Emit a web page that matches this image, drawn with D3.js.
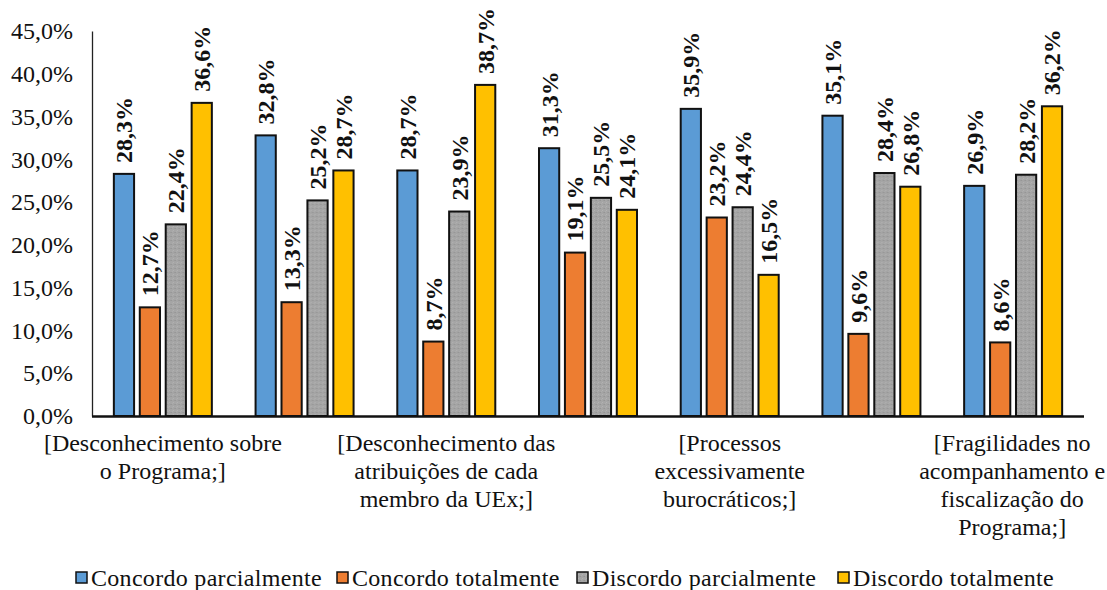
<!DOCTYPE html>
<html>
<head>
<meta charset="utf-8">
<script src="https://cdn.jsdelivr.net/npm/d3@7"></script>
<style>
  html, body { margin: 0; padding: 0; background: #fff; }
  svg { display: block; }
  svg text { font-family: 'Liberation Serif', 'Times New Roman', serif; fill: #111; }
</style>
</head>
<body>
<svg id="chart" width="1107" height="590"></svg>
<script>
// Survey answers per statement (percent of respondents)
const categoryLabels = [
  ["[Desconhecimento sobre", "o Programa;]"],
  [],
  ["[Desconhecimento das", "atribuições de cada", "membro da UEx;]"],
  [],
  ["[Processos", "excessivamente", "burocráticos;]"],
  [],
  ["[Fragilidades no", "acompanhamento e", "fiscalização do", "Programa;]"]
];
const seriesNames = ["Concordo parcialmente", "Concordo totalmente", "Discordo parcialmente", "Discordo totalmente"];
const concordoParcialmente = [28.3, 32.8, 28.7, 31.3, 35.9, 35.1, 26.9];
const concordoTotalmente   = [12.7, 13.3, 8.7, 19.1, 23.2, 9.6, 8.6];
const discordoParcialmente = [22.4, 25.2, 23.9, 25.5, 24.4, 28.4, 28.2];
const discordoTotalmente   = [36.6, 28.7, 38.7, 24.1, 16.5, 26.8, 36.2];
const yTicks = [0, 5, 10, 15, 20, 25, 30, 35, 40, 45];

const seriesValues = [concordoParcialmente, concordoTotalmente, discordoParcialmente, discordoTotalmente];
const colors = ["#5B9BD5", "#ED7D31", "#A5A5A5", "#FFC000"];

const svg = d3.select("#chart");
const fmt = v => d3.format(".1f")(v).replace(".", ",") + "%";

const plotLeft = 92, plotRight = 1084, plotTop = 31, plotBottom = 416;

const x0 = d3.scaleBand().domain(d3.range(categoryLabels.length)).range([plotLeft, plotRight]).padding(0);
const x1 = d3.scaleBand().domain(d3.range(seriesNames.length)).range([-49, 49]).paddingInner(0.22).paddingOuter(0);
const y = d3.scaleLinear().domain([0, 45]).range([plotBottom, plotTop]);

// Subtle grain for the grey series
const defs = svg.append("defs");
const pat = defs.append("pattern").attr("id", "grain").attr("width", 4).attr("height", 4)
  .attr("patternUnits", "userSpaceOnUse");
pat.append("rect").attr("width", 4).attr("height", 4).attr("fill", "#A5A5A5");
pat.append("rect").attr("x", 0).attr("y", 0).attr("width", 1).attr("height", 1).attr("fill", "#959595");
pat.append("rect").attr("x", 2).attr("y", 2).attr("width", 1).attr("height", 1).attr("fill", "#B3B3B3");
pat.append("rect").attr("x", 3).attr("y", 0).attr("width", 1).attr("height", 1).attr("fill", "#9C9C9C");
pat.append("rect").attr("x", 1).attr("y", 3).attr("width", 1).attr("height", 1).attr("fill", "#ADADAD");
const fills = [colors[0], colors[1], "url(#grain)", colors[3]];

// Y axis
const yAxis = d3.axisLeft(y).tickValues(yTicks).tickSize(0).tickPadding(19).tickFormat(fmt);
const gy = svg.append("g").attr("transform", `translate(${plotLeft},0)`).call(yAxis);
gy.attr("font-family", null).attr("font-size", null);
gy.select(".domain").attr("stroke", "#222").attr("stroke-width", 1.3);
gy.selectAll("text").style("font-size", "24px").attr("fill", "#111");

// Bars
const groups = svg.append("g").selectAll("g")
  .data(categoryLabels.map((_, i) => i))
  .join("g")
  .attr("transform", i => `translate(${x0(i) + x0.bandwidth() / 2},0)`);

groups.selectAll("rect")
  .data(i => seriesValues.map((vals, s) => ({ s, v: vals[i] })))
  .join("rect")
  .attr("x", d => x1(d.s))
  .attr("y", d => y(d.v))
  .attr("width", x1.bandwidth())
  .attr("height", d => y(0) - y(d.v))
  .attr("fill", d => fills[d.s])
  .attr("stroke", "#111")
  .attr("stroke-width", 2);

// Rotated value labels
groups.selectAll("text.val")
  .data(i => seriesValues.map((vals, s) => ({ s, v: vals[i] })))
  .join("text")
  .attr("class", "val")
  .attr("transform", d => `translate(${x1(d.s) + x1.bandwidth() / 2},${y(d.v) - 11}) rotate(-90)`)
  .attr("dy", "0.35em")
  .attr("text-anchor", "start")
  .style("font-weight", "bold")
  .style("font-size", "24px")
  .text(d => fmt(d.v));

// X axis line
svg.append("line")
  .attr("x1", plotLeft).attr("x2", plotRight)
  .attr("y1", plotBottom + 0.5).attr("y2", plotBottom + 0.5)
  .attr("stroke", "#111").attr("stroke-width", 2.5);

// Category labels
const catG = svg.append("g");
categoryLabels.forEach((lines, i) => {
  const t = catG.append("text")
    .attr("text-anchor", "middle")
    .style("font-size", "24px");
  lines.forEach((ln, k) => {
    t.append("tspan")
      .attr("x", x0(i) + x0.bandwidth() / 2 - (i === categoryLabels.length - 1 ? 1 : 0))
      .attr("y", 451 + k * 28)
      .text(ln);
  });
});

// Legend
const legendX = [76, 337, 577, 838];
const lg = svg.append("g");
seriesNames.forEach((name, s) => {
  lg.append("rect")
    .attr("x", legendX[s]).attr("y", 572)
    .attr("width", 11).attr("height", 11)
    .attr("fill", fills[s]).attr("stroke", "#111").attr("stroke-width", 1.5);
  lg.append("text")
    .attr("x", legendX[s] + 15).attr("y", 586)
    .style("font-size", "24px")
    .style("letter-spacing", "0.3px")
    .text(name);
});
</script>
</body>
</html>
